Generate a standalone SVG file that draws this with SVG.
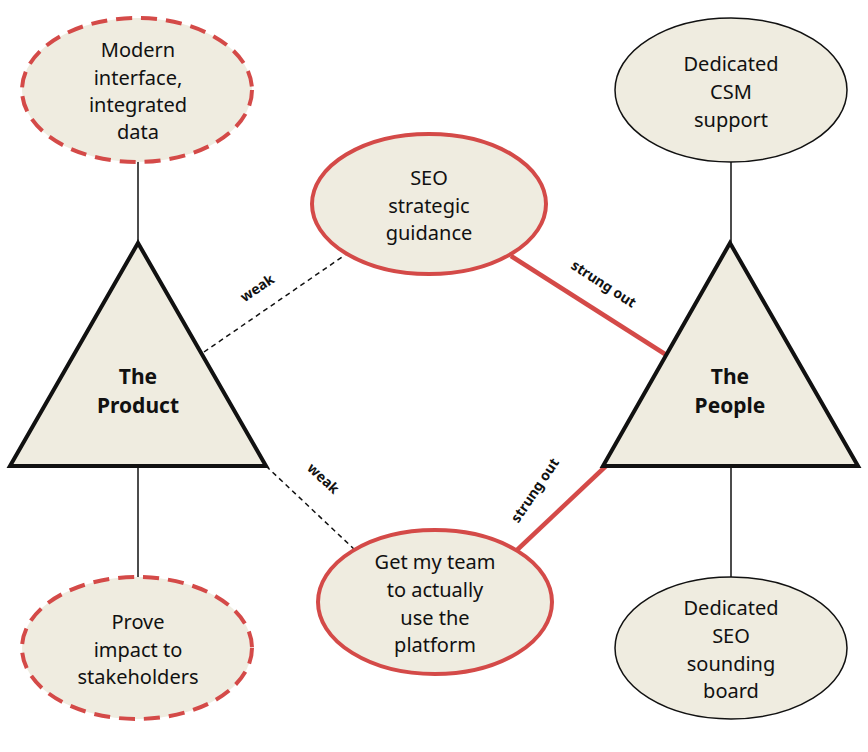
<svg xmlns="http://www.w3.org/2000/svg" width="868" height="752" viewBox="0 0 868 752">
<style>
.n{fill:#efece0}
.red{stroke:#d44a48;stroke-width:4}
.dash{stroke-dasharray:16 9}
.blk{stroke:#111;stroke-width:1.5}
.tri{fill:#efece0;stroke:#111;stroke-width:4}
text{font-family:"Noto Sans","Liberation Sans",sans-serif;fill:#111;text-anchor:middle}
.t{font-size:20px}
.b{font-size:21px;font-weight:bold}
.s{font-size:14px;font-weight:bold}
</style>
<rect width="868" height="752" fill="#fff"/>
<g id="connectors" fill="none">
<line x1="138" y1="160" x2="138" y2="243" stroke="#111" stroke-width="1.5"/>
<line x1="138" y1="466" x2="138" y2="580" stroke="#111" stroke-width="1.5"/>
<line x1="731" y1="160" x2="731" y2="243" stroke="#111" stroke-width="1.5"/>
<line x1="731" y1="466" x2="731" y2="580" stroke="#111" stroke-width="1.5"/>
<line x1="204" y1="352" x2="345" y2="255" stroke="#111" stroke-width="1.5" stroke-dasharray="5 4"/>
<line x1="266" y1="466" x2="355" y2="550" stroke="#111" stroke-width="1.5" stroke-dasharray="5 4"/>
<line x1="511" y1="256" x2="668" y2="356" stroke="#d44a48" stroke-width="4.5"/>
<line x1="517" y1="550" x2="606" y2="466" stroke="#d44a48" stroke-width="4.5"/>
<text class="s" transform="translate(260,292) rotate(-34)">weak</text>
<text class="s" transform="translate(320,482) rotate(43)">weak</text>
<text class="s" transform="translate(601,288) rotate(33)">strung out</text>
<text class="s" transform="translate(539,493) rotate(-56)">strung out</text>
</g>
<g id="modern"><ellipse class="n red dash" cx="137" cy="90" rx="115" ry="72"/>
<text class="t" x="138" y="57">Modern</text><text class="t" x="138" y="85">interface,</text><text class="t" x="138" y="112">integrated</text><text class="t" x="138" y="139">data</text></g>
<g id="prove"><ellipse class="n red dash" cx="137" cy="648" rx="115" ry="71"/>
<text class="t" x="138" y="629">Prove</text><text class="t" x="138" y="657">impact to</text><text class="t" x="138" y="684">stakeholders</text></g>
<g id="csm"><ellipse class="n blk" cx="731" cy="90" rx="116" ry="72"/>
<text class="t" x="731" y="71">Dedicated</text><text class="t" x="731" y="99">CSM</text><text class="t" x="731" y="127">support</text></g>
<g id="seoboard"><ellipse class="n blk" cx="731" cy="648" rx="116" ry="71"/>
<text class="t" x="731" y="615">Dedicated</text><text class="t" x="731" y="643">SEO</text><text class="t" x="731" y="671">sounding</text><text class="t" x="731" y="698">board</text></g>
<g id="seo"><ellipse class="n red" cx="429" cy="204" rx="117" ry="70"/>
<text class="t" x="429" y="185">SEO</text><text class="t" x="429" y="213">strategic</text><text class="t" x="429" y="240">guidance</text></g>
<g id="team"><ellipse class="n red" cx="435" cy="602" rx="117" ry="72"/>
<text class="t" x="435" y="569">Get my team</text><text class="t" x="435" y="597">to actually</text><text class="t" x="435" y="625">use the</text><text class="t" x="435" y="652">platform</text></g>
<g id="product"><polygon class="tri" points="138,243 10,466 266,466"/>
<text class="b" x="138" y="384">The</text><text class="b" x="138" y="413">Product</text></g>
<g id="people"><polygon class="tri" points="730,243 603,466 858,466"/>
<text class="b" x="730" y="384">The</text><text class="b" x="730" y="413">People</text></g>
</svg>
